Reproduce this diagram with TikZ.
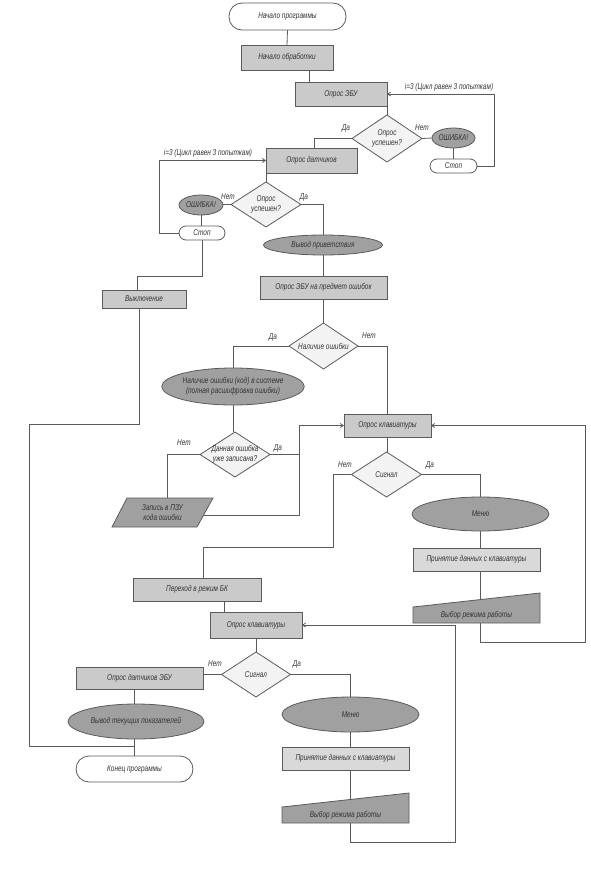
\documentclass[tikz,border=0pt]{standalone}
\usepackage{fontspec}
\setmainfont{Liberation Sans}[FakeStretch=0.76]
\usetikzlibrary{shapes.geometric,arrows.meta,backgrounds}
\definecolor{boxc}{HTML}{CACACA}
\definecolor{lboxc}{HTML}{D9D9D9}
\definecolor{darkc}{HTML}{A0A0A0}
\definecolor{diac}{HTML}{F3F3F3}
\definecolor{ln}{HTML}{5A5A5A}
\definecolor{txt}{HTML}{333333}
\tikzset{
  every node/.style={font=\fontsize{8.5}{9.5}\selectfont\itshape, text=txt, inner sep=0pt, outer sep=0pt},
  box/.style={rectangle, draw=ln, fill=boxc, line width=0.8pt},
  lbox/.style={rectangle, draw=ln, fill=lboxc, line width=0.8pt},
  term/.style={rectangle, draw=ln, fill=white, line width=0.8pt, rounded corners=#1},
  oval/.style={ellipse, draw=ln, fill=darkc, line width=0.8pt, align=center},
  dia/.style={diamond, draw=ln, fill=diac, line width=0.8pt},
  shp/.style={draw=ln, fill=darkc, line width=0.8pt},
  conn/.style={draw=ln, line width=0.8pt},
  arr/.style={conn, -{Straight Barb[length=3pt,width=4pt]}},
  lbl/.style={inner sep=0pt}
}
\begin{document}
\begin{tikzpicture}[x=1pt, y=-1pt]
\useasboundingbox (0,0) rectangle (591,878);

% ---- nodes ----
\node[term=13pt, minimum width=117pt, minimum height=27pt] (start) at (287.5,16.5) {Начало программы};
\node[box, minimum width=92pt, minimum height=25pt] (n1) at (287,57.5) {Начало обработки};
\node[box, minimum width=92pt, minimum height=24pt] (n2) at (341,94) {Опрос ЭБУ};
\node[dia, minimum width=70pt, minimum height=47pt, label={[align=center]center:Опрос\\успешен?}] (d1) at (387,138.5) {};
\node[oval, minimum width=43pt, minimum height=20pt] (e1) at (453.5,138) {ОШИБКА!};
\node[term=7pt, minimum width=47pt, minimum height=14pt] (s1) at (453.5,166) {Стоп};
\node[box, minimum width=91pt, minimum height=25pt] (n3) at (311.5,160.5) {Опрос датчиков};
\node[dia, minimum width=70pt, minimum height=45pt, label={[align=center]center:Опрос\\успешен?}] (d2) at (266,204.5) {};
\node[oval, minimum width=44pt, minimum height=20pt] (e2) at (201,205) {ОШИБКА!};
\node[term=7pt, minimum width=46pt, minimum height=14pt] (s2) at (202,233) {Стоп};
\node[oval, minimum width=119pt, minimum height=20pt] (e3) at (323,245) {Вывод приветствия};
\node[box, minimum width=127pt, minimum height=23pt] (n4) at (323.5,287.5) {Опрос ЭБУ на предмет ошибок};
\node[box, minimum width=84pt, minimum height=18pt] (n5) at (144,299) {Выключение};
\node[dia, minimum width=69pt, minimum height=46pt, label={center:Наличие ошибки}] (d3) at (323.5,346) {};
\node[oval, minimum width=132pt, minimum height=37pt] (e4) at (233,386.5) {Наличие ошибки (код) в системе\\(полная расшифровка ошибки)};
\node[box, minimum width=87pt, minimum height=23pt] (n6) at (387.5,425.5) {Опрос клавиатуры};
\node[dia, minimum width=70pt, minimum height=45pt, label={[align=center]center:Данная ошибка\\уже записана?}] (d4) at (235,454.5) {};
\draw[shp] (112,527) -- (127,498) -- (213,498) -- (197,527) -- cycle;
\node[align=center, minimum width=85pt, minimum height=29pt] (p1) at (162.5,512.5) {Запись в ПЗУ\\кода ошибки};
\coordinate (p1r) at (203.6,515);
\node[dia, minimum width=70pt, minimum height=45pt, label={center:Сигнал}] (d5) at (386.5,474.5) {};
\node[oval, minimum width=137pt, minimum height=34pt] (e5) at (480.5,514) {Меню};
\node[lbox, minimum width=127pt, minimum height=23pt] (n7) at (476.5,559.5) {Принятие данных с клавиатуры};
\draw[shp] (413,607) -- (540,593) -- (540,623) -- (413,623) -- cycle;
\node[minimum width=127pt, minimum height=16pt] (t1) at (476.5,615) {Выбор режима работы};
\node[box, minimum width=128pt, minimum height=23pt] (n8) at (197,589.5) {Переход в режим БК};
\node[box, minimum width=92pt, minimum height=26pt] (n9) at (256,625) {Опрос клавиатуры};
\node[dia, minimum width=69pt, minimum height=45pt, label={center:Сигнал}] (d6) at (256,674.5) {};
\node[box, minimum width=127pt, minimum height=22pt] (n10) at (139.5,678) {Опрос датчиков ЭБУ};
\node[oval, minimum width=136pt, minimum height=35pt] (e6) at (136,721.5) {Вывод текущих показателей};
\node[term=13pt, minimum width=117pt, minimum height=26pt] (end) at (134.5,769) {Конец программы};
\node[oval, minimum width=137pt, minimum height=35pt] (e7) at (350.5,714.5) {Меню};
\node[lbox, minimum width=127pt, minimum height=23pt] (n11) at (345.5,758.5) {Принятие данных с клавиатуры};
\draw[shp] (282,807) -- (409,793) -- (409,823) -- (282,823) -- cycle;
\node[minimum width=127pt, minimum height=16pt] (t2) at (345.5,815) {Выбор режима работы};

% ---- helper coordinates ----
\coordinate (c1) at (585,642);
\coordinate (c2) at (455,842);
\coordinate (c3) at (29,424);
\coordinate (c4) at (134,746);
\coordinate (j1) at (299,454.5);
\coordinate (j2) at (299,515);
\coordinate (j3) at (333,547);

% ---- labels ----
\node[lbl] (l1) at (449,87) {i=3 (Цикл равен 3 попыткам)};
\node[lbl] (l2) at (208,153) {i=3 (Цикл равен 3 попыткам)};
\node[lbl] (l3) at (346,128) {Да};
\node[lbl] (l4) at (422,128) {Нет};
\node[lbl] (l5) at (228,197) {Нет};
\node[lbl] (l6) at (304,197) {Да};
\node[lbl] (l7) at (273,337) {Да};
\node[lbl] (l8) at (369,336) {Нет};
\node[lbl] (l9) at (184,443) {Нет};
\node[lbl] (l10) at (278,448) {Да};
\node[lbl] (l11) at (345,465) {Нет};
\node[lbl] (l12) at (430,465) {Да};
\node[lbl] (l13) at (215,664) {Нет};
\node[lbl] (l14) at (297,664) {Да};

% ---- connectors ----
\begin{scope}[on background layer]
\draw[conn] (start.south) -- (n1.north);
\draw[conn] ([xshift=22pt]n1.south) -- ([xshift=22pt]n1.south |- n2.north);
\draw[conn] (n2.south east) -- (d1.north);
\draw[conn] (d1.east) -- (e1.west);
\draw[conn] (e1.south) -- (e1.south |- s1.north);
\draw[arr] (s1.east) -- ++(17,0) |- (n2.east);
\draw[conn] (d1.west) -| ([xshift=2.5pt]n3.north);
\draw[conn] (n3.south west) -- (d2.north);
\draw[conn] (d2.west) -- (d2.west -| e2.east);
\draw[conn] (e2.south) -- (e2.south |- s2.north);
\draw[arr] (s2.west) -- ++(-20,0) |- (n3.west);
\draw[conn] (s2.south) -- ++(0,36) -| ([xshift=-7pt]n5.north);
\draw[conn] (d2.east) -| (e3.north);
\draw[conn] (e3.south) -- (e3.south |- n4.north);
\draw[conn] (n4.south) -- (d3.north);
\draw[conn] (d3.west) -| (e4.north);
\draw[conn] (d3.east) -| (n6.north);
\draw[conn] (e4.south) -- (e4.south |- d4.north);
\draw[conn] (d4.west) -| (167,498);
\draw[conn] (d4.east) -- (j1);
\draw[arr] (p1r) -- (j2) |- (n6.west);
\draw[conn] (n6.south) -- (n6.south |- d5.north);
\draw[conn] (d5.east) -| (e5.north);
\draw[conn] (e5.south) -- (e5.south |- n7.north);
\draw[conn] (e5.south |- n7.south) -- (e5.south |- t1.north);
\draw[arr] (t1.south -| e5.south) |- (c1) |- (n6.east);
\draw[conn] (d5.west) -| (j3) -| ([xshift=6pt]n8.north);
\draw[conn] ([xshift=27pt]n8.south) -- ([xshift=27pt]n8.south |- n9.north);
\draw[arr] (t2.south -| e7.south) |- (c2) |- (n9.east);
\draw[conn] (n9.south) -- (d6.north);
\draw[conn] (d6.west) -- (d6.west -| n10.east);
\draw[conn] ([xshift=-5.5pt]n10.south) -- ([xshift=-5.5pt]n10.south |- e6.north);
\draw[conn] (c4 |- e6.south) -- (c4 |- end.north);
\draw[conn] ([xshift=-5pt]n5.south) |- (c3) |- (c4);
\draw[conn] (d6.east) -| (e7.north);
\draw[conn] (e7.south) -- (e7.south |- n11.north);
\draw[conn] (e7.south |- n11.south) -- (e7.south |- t2.north);
\end{scope}
\end{tikzpicture}
\end{document}
